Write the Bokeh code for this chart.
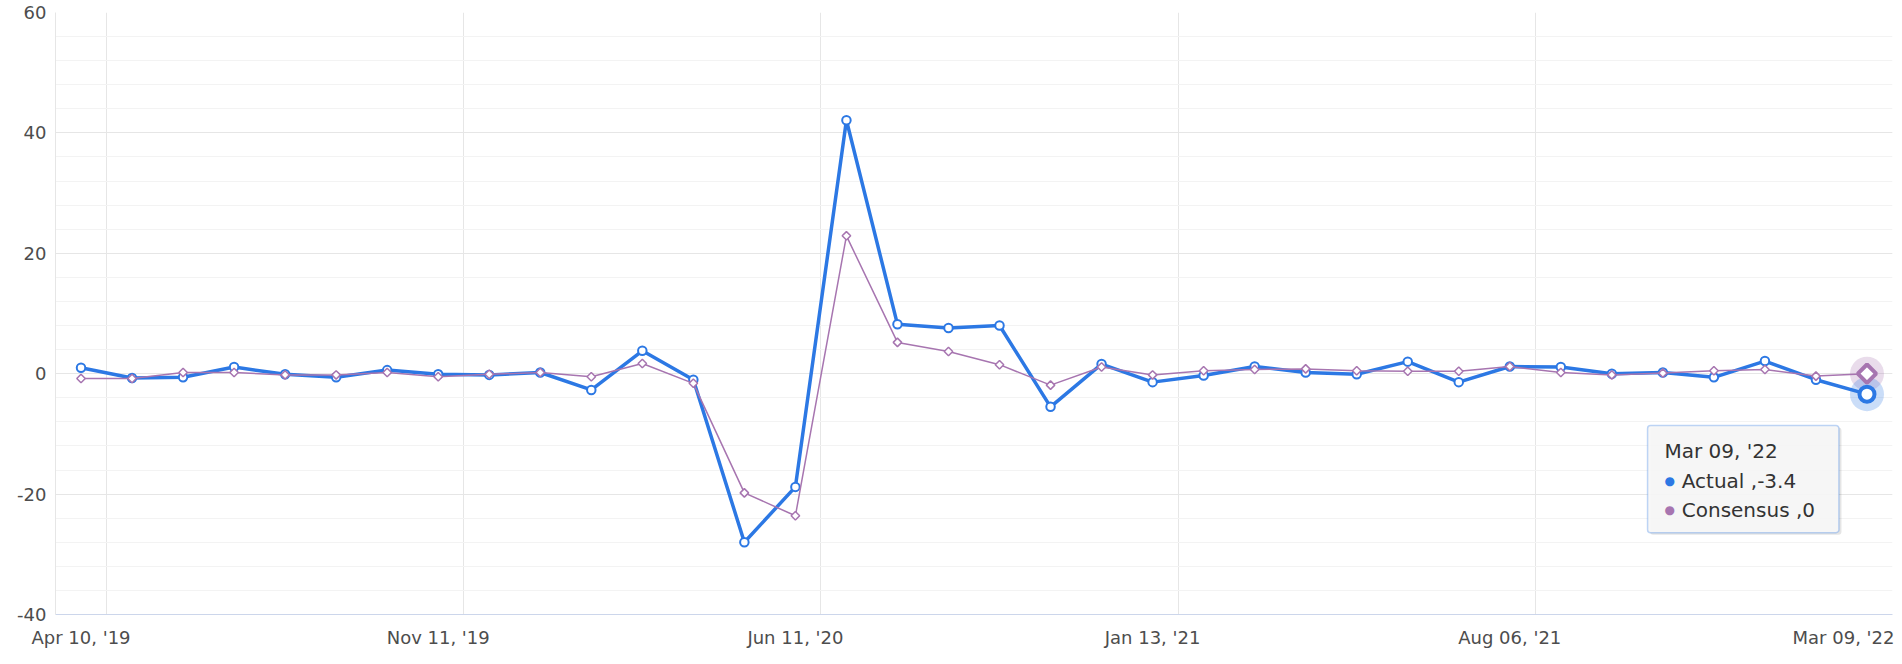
import numpy as np
from bokeh.plotting import figure
from bokeh.models import FixedTicker, BoxAnnotation, Label, Range1d
from bokeh.embed import file_html
from bokeh.resources import INLINE

# ---------------- data ----------------
months = ["Apr '19", "May '19", "Jun '19", "Jul '19", "Aug '19", "Sep '19", "Oct '19", "Nov '19",
          "Dec '19", "Jan '20", "Feb '20", "Mar '20", "Apr '20", "May '20", "Jun '20", "Jul '20",
          "Aug '20", "Sep '20", "Oct '20", "Nov '20", "Dec '20", "Jan '21", "Feb '21", "Mar '21",
          "Apr '21", "May '21", "Jun '21", "Jul '21", "Aug '21", "Sep '21", "Oct '21", "Nov '21",
          "Dec '21", "Jan '22", "Feb '22", "Mar '22"]
actual = [1.0, -0.7, -0.6, 1.1, -0.1, -0.6, 0.6, -0.1, -0.2, 0.2, -2.7, 3.8,
          -1.0, -28.0, -18.8, 42.1, 8.2, 7.6, 8.0, -5.5, 1.6, -1.4, -0.3, 1.2,
          0.2, -0.1, 2.0, -1.4, 1.2, 1.1, 0.0, 0.2, -0.6, 2.1, -1.0, -3.4]
consensus = [-0.8, -0.8, 0.2, 0.2, -0.2, -0.2, 0.2, -0.5, -0.1, 0.2, -0.5, 1.7,
             -1.6, -19.8, -23.6, 22.9, 5.2, 3.7, 1.5, -1.9, 1.1, -0.2, 0.5, 0.7,
             0.8, 0.5, 0.4, 0.4, 1.2, 0.2, -0.2, 0.1, 0.5, 0.7, -0.4, 0.0]
series_names = ["Actual", "Consensus"]
tick_labels = ["Apr 10, '19", "Nov 11, '19", "Jun 11, '20", "Jan 13, '21", "Aug 06, '21", "Mar 09, '22"]
tick_idx = [0, 7, 14, 21, 28, 35]
y_ticks = [-40, -20, 0, 20, 40, 60]

# ---------------- style ----------------
BLUE = "#2c78e4"
PURPLE = "#a775b0"
GRID = "#e6e6e6"
MINOR = "#f3f3f3"
LABEL_COLOR = "#4d4d4d"
FONT = "DejaVu Sans"

n = len(actual)
x_idx = list(range(n))
last = n - 1

p = figure(width=1902, height=664, output_backend="svg", toolbar_location=None,
           x_range=Range1d(-0.5, n - 0.5), y_range=Range1d(-40, 60),
           min_border_left=55, min_border_right=10, min_border_top=12, min_border_bottom=50)
p.outline_line_color = None
p.background_fill_color = "white"
p.border_fill_color = "white"

# y axis
p.yaxis.ticker = FixedTicker(ticks=y_ticks, minor_ticks=list(range(-40, 61, 4)))
p.yaxis.major_label_overrides = {t: str(t) for t in y_ticks}
p.yaxis.major_tick_out = 0
p.yaxis.major_tick_in = 0
p.yaxis.minor_tick_out = 0
p.yaxis.minor_tick_in = 0
p.yaxis.axis_line_color = GRID
p.yaxis.major_label_text_font = FONT
p.yaxis.major_label_text_font_size = "18px"
p.yaxis.major_label_text_color = LABEL_COLOR
p.yaxis.major_label_standoff = 9
p.ygrid.grid_line_color = GRID
p.ygrid.minor_grid_line_color = MINOR

# x axis: labels centred on points, last one justified inside the chart
justify = 0.46
x_tick_pos = [float(i) for i in tick_idx]
x_tick_pos[-1] = tick_idx[-1] - justify
p.xaxis.ticker = FixedTicker(ticks=x_tick_pos)
p.xaxis.major_label_overrides = {pos: lab for pos, lab in zip(x_tick_pos, tick_labels)}
p.xaxis.major_tick_out = 0
p.xaxis.major_tick_in = 0
p.xaxis.minor_tick_out = 0
p.xaxis.minor_tick_in = 0
p.xaxis.axis_line_color = "#ccd6eb"
p.xaxis.major_label_text_font = FONT
p.xaxis.major_label_text_font_size = "18px"
p.xaxis.major_label_text_color = LABEL_COLOR
p.xaxis.major_label_standoff = 12
p.xgrid.ticker = FixedTicker(ticks=[-0.5] + [i + 0.5 for i in tick_idx])
p.xgrid.grid_line_color = GRID

# series
p.line(x_idx, actual, line_color=BLUE, line_width=3.5, line_join="round")
p.scatter(x_idx, actual, marker="circle", size=8.5, fill_color="white",
          line_color=BLUE, line_width=2)
p.line(x_idx, consensus, line_color=PURPLE, line_width=1.5, line_join="round")
p.scatter(x_idx, consensus, marker="square", angle=np.pi / 4, size=6, fill_color="white",
          line_color=PURPLE, line_width=1.5)

# hover state on last point
p.scatter([x_idx[last]], [consensus[last]], marker="circle", size=34, fill_color=PURPLE,
          fill_alpha=0.25, line_color=None)
p.scatter([x_idx[last]], [actual[last]], marker="circle", size=34, fill_color=BLUE,
          fill_alpha=0.25, line_color=None)
p.scatter([x_idx[last]], [actual[last]], marker="circle", size=15, fill_color="white",
          line_color=BLUE, line_width=4)
p.scatter([x_idx[last]], [consensus[last]], marker="square", angle=np.pi / 4, size=13,
          fill_color="white", line_color=PURPLE, line_width=4)

# tooltip
tt_left, tt_right, tt_top, tt_bottom = 30.70, 34.45, -8.6, -26.4
p.add_layout(BoxAnnotation(left=tt_left + 0.05, right=tt_right + 0.05, top=tt_top - 0.35,
                           bottom=tt_bottom - 0.35, fill_color="black", fill_alpha=0.1,
                           line_color=None, border_radius=3))
p.add_layout(BoxAnnotation(left=tt_left, right=tt_right, top=tt_top, bottom=tt_bottom,
                           fill_color="#f7f7f7", fill_alpha=0.92, line_color=BLUE,
                           line_width=1.5, border_radius=3))
p.add_layout(Label(x=31.03, y=-12.9, text=tick_labels[-1], text_font=FONT,
                   text_font_size="20px", text_color="#333333", text_baseline="middle"))
rows = [(series_names[0], actual[last], BLUE, -17.9),
        (series_names[1], consensus[last], PURPLE, -22.6)]
for name, val, col, yy in rows:
    p.add_layout(Label(x=31.03, y=yy, text="\u25cf", text_font=FONT, text_font_size="12px",
                       text_color=col, text_baseline="middle"))
    p.add_layout(Label(x=31.37, y=yy, text=f"{name} ,{val:g}", text_font=FONT,
                       text_font_size="20px", text_color="#333333", text_baseline="middle"))

open("out.html", "w").write(file_html(p, INLINE))
